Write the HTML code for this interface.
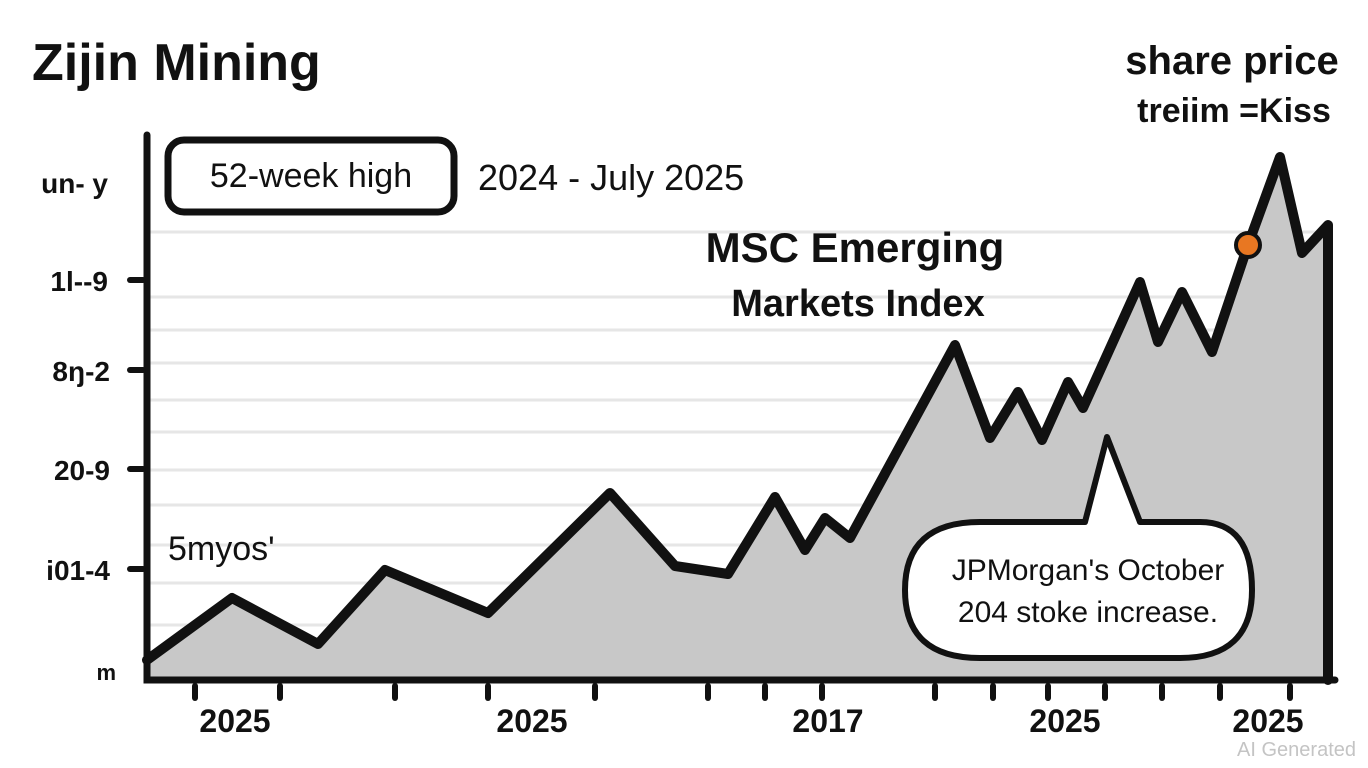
<!DOCTYPE html>
<html><head><meta charset="utf-8"><style>
body{margin:0;background:#fff;}
svg{display:block;font-family:"Liberation Sans",sans-serif;}
</style></head><body>
<svg width="1368" height="768" viewBox="0 0 1368 768">
<rect width="1368" height="768" fill="#fff"/>
<g stroke="#e6e6e6" stroke-width="3">
<line x1="150" y1="232" x2="1330" y2="232"/>
<line x1="150" y1="297" x2="1330" y2="297"/>
<line x1="150" y1="330" x2="1330" y2="330"/>
<line x1="150" y1="363" x2="1330" y2="363"/>
<line x1="150" y1="400" x2="1330" y2="400"/>
<line x1="150" y1="432" x2="1330" y2="432"/>
<line x1="150" y1="470" x2="1330" y2="470"/>
<line x1="150" y1="505" x2="1330" y2="505"/>
<line x1="150" y1="545" x2="1330" y2="545"/>
<line x1="150" y1="583" x2="1330" y2="583"/>
<line x1="150" y1="625" x2="1330" y2="625"/>
</g>
<polygon fill="#c8c8c8" points="147,660 232,598 318,644 385,570 488,613 610,493 675,566 728,574 775,497 805,550 825,518 850,538 955,345 990,438 1018,392 1042,440 1068,382 1083,408 1140,282 1158,342 1182,292 1212,352 1248,245 1280,157 1302,253 1328,225 1328,680 147,680"/>
<polyline fill="none" stroke="#111" stroke-width="10" stroke-linejoin="round" stroke-linecap="round" points="147,660 232,598 318,644 385,570 488,613 610,493 675,566 728,574 775,497 805,550 825,518 850,538 955,345 990,438 1018,392 1042,440 1068,382 1083,408 1140,282 1158,342 1182,292 1212,352 1248,245 1280,157 1302,253 1328,225 1328,680"/>
<circle cx="1248" cy="245" r="12" fill="#e87722" stroke="#111" stroke-width="4"/>
<path d="M147 135 V680 H1335" fill="none" stroke="#111" stroke-width="7" stroke-linecap="round"/>
<g stroke="#111" stroke-width="6" stroke-linecap="round">
<line x1="130" y1="280" x2="143" y2="280"/><line x1="130" y1="370" x2="143" y2="370"/>
<line x1="130" y1="469" x2="143" y2="469"/><line x1="130" y1="569" x2="143" y2="569"/>
<line x1="195" y1="686" x2="195" y2="698"/><line x1="280" y1="686" x2="280" y2="698"/>
<line x1="395" y1="686" x2="395" y2="698"/><line x1="488" y1="686" x2="488" y2="698"/>
<line x1="595" y1="686" x2="595" y2="698"/><line x1="708" y1="686" x2="708" y2="698"/>
<line x1="765" y1="686" x2="765" y2="698"/><line x1="822" y1="686" x2="822" y2="698"/>
<line x1="935" y1="686" x2="935" y2="698"/><line x1="993" y1="686" x2="993" y2="698"/>
<line x1="1048" y1="686" x2="1048" y2="698"/><line x1="1105" y1="686" x2="1105" y2="698"/>
<line x1="1162" y1="686" x2="1162" y2="698"/><line x1="1220" y1="686" x2="1220" y2="698"/>
<line x1="1290" y1="686" x2="1290" y2="698"/>
</g>
<g font-size="28" font-weight="bold" fill="#111" text-anchor="end">
<text x="108" y="193">un- y</text><text x="108" y="291">1l--9</text>
<text x="110" y="381">8ŋ-2</text><text x="110" y="480">20-9</text>
<text x="110" y="580">i01-4</text><text x="116" y="680" font-size="22">m</text>
</g>
<g font-size="32" font-weight="bold" fill="#111" text-anchor="middle">
<text x="235" y="732">2025</text><text x="532" y="732">2025</text>
<text x="828" y="732">2017</text><text x="1065" y="732">2025</text><text x="1268" y="732">2025</text>
</g>
<text x="32" y="80" font-size="52" font-weight="bold" fill="#111">Zijin Mining</text>
<text x="1232" y="74" font-size="40" font-weight="bold" fill="#111" text-anchor="middle">share price</text>
<text x="1234" y="122" font-size="34" font-weight="bold" fill="#111" text-anchor="middle">treiim =Kiss</text>
<rect x="168" y="140" width="286" height="72" rx="16" fill="#fff" stroke="#111" stroke-width="7"/>
<text x="311" y="187" font-size="34" fill="#111" text-anchor="middle">52-week high</text>
<text x="478" y="190" font-size="36" fill="#111">2024 - July 2025</text>
<text x="855" y="262" font-size="42" font-weight="bold" fill="#111" text-anchor="middle">MSC Emerging</text>
<text x="858" y="316" font-size="38" font-weight="bold" fill="#111" text-anchor="middle">Markets Index</text>
<text x="168" y="560" font-size="34" fill="#111">5myos'</text>
<path d="M1085 522 L1107 437 L1140 522 H1200 Q1252 522 1252 590 Q1252 658 1180 658 H980 Q905 658 905 590 Q905 522 980 522 Z" fill="#fff" stroke="#111" stroke-width="6" stroke-linejoin="round"/>
<text x="1088" y="580" font-size="30" fill="#111" text-anchor="middle">JPMorgan's October</text>
<text x="1088" y="622" font-size="30" fill="#111" text-anchor="middle">204 stoke increase.</text>
<text x="1356" y="756" font-size="20" fill="#c4c4c4" text-anchor="end">AI Generated</text>
</svg>
</body></html>
